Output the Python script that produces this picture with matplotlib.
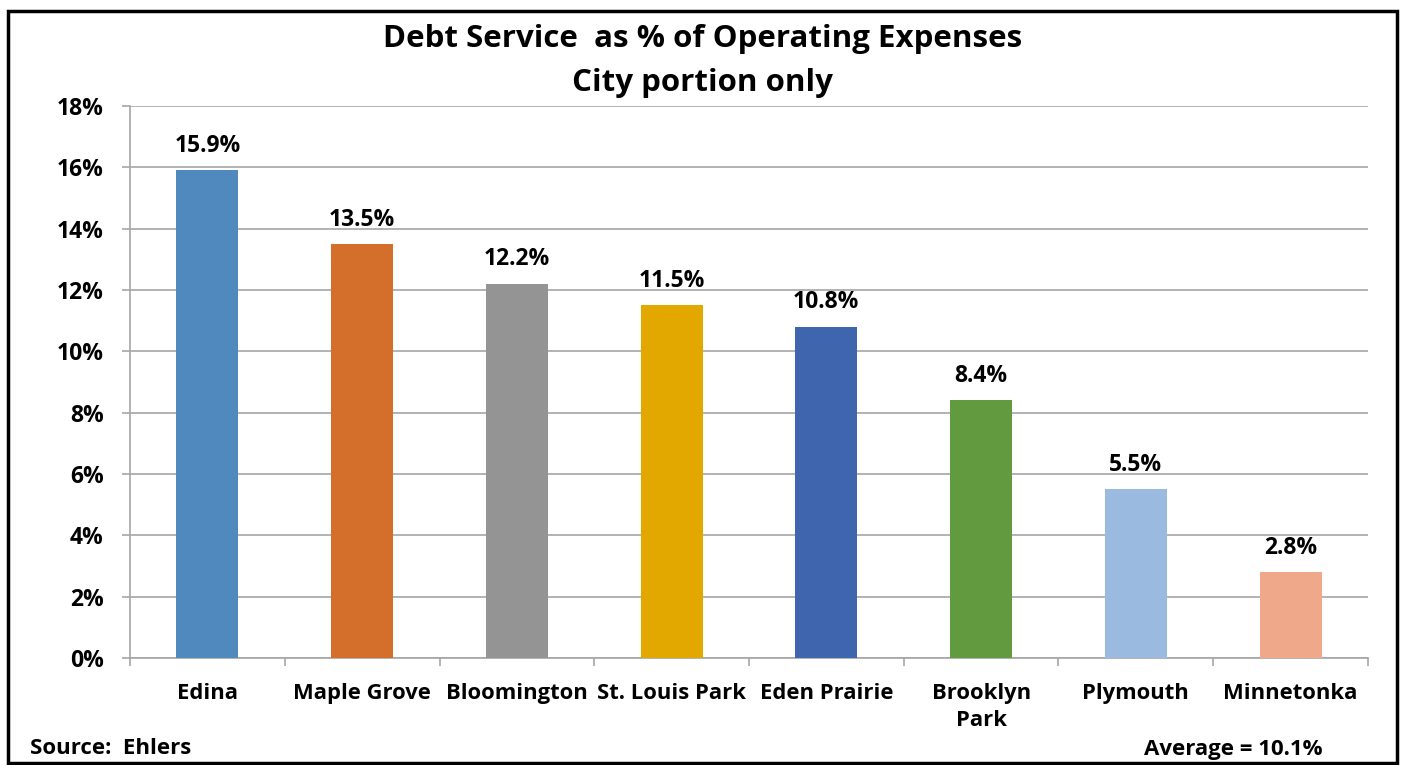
import matplotlib
matplotlib.use("Agg")
import matplotlib.pyplot as plt
from matplotlib.patches import Rectangle
from matplotlib.ticker import FuncFormatter, MultipleLocator

cities = ["Edina", "Maple Grove", "Bloomington", "St. Louis Park",
          "Eden Prairie", "Brooklyn\nPark", "Plymouth", "Minnetonka"]
debt_pct = [15.9, 13.5, 12.2, 11.5, 10.8, 8.4, 5.5, 2.8]
bar_colors = ["#5089BE", "#D46F2B", "#949494", "#E3A800",
              "#3E65AD", "#629B3F", "#9ABAE0", "#F0A88A"]
average_pct = 10.1

plt.rcParams["font.family"] = ["Open Sans", "DejaVu Sans"]
plt.rcParams["font.weight"] = "bold"

LABEL_SIZE = 16.5
CAT_SIZE = 15.8

fig = plt.figure(figsize=(14.03, 7.65), dpi=100)
ax = fig.add_axes([0.0927, 0.1399, 0.8823, 0.7215])

x = list(range(len(cities)))
ax.bar(x, debt_pct, width=0.4, color=bar_colors, zorder=3)

for xi, v in zip(x, debt_pct):
    ax.annotate(f"{v:.1f}%", (xi, v), xytext=(0, 9), textcoords="offset points",
                ha="center", va="bottom", fontsize=LABEL_SIZE, fontweight="bold")

ax.set_xlim(-0.5, len(cities) - 0.5)
ax.set_ylim(0, 18)
ax.yaxis.set_major_locator(MultipleLocator(2))
ax.yaxis.set_major_formatter(FuncFormatter(lambda v, _: f"{v:.0f}%"))
ax.grid(axis="y", color="#A6A6A6", linewidth=1.2, zorder=0)

ax.set_xticks(x)
ax.set_xticklabels(cities, fontsize=CAT_SIZE, fontweight="bold", linespacing=1.4)
ax.tick_params(axis="x", length=0, pad=18)
ax.set_xticks([i + 0.5 for i in range(-1, len(cities))], minor=True)
ax.tick_params(axis="x", which="minor", length=6, color="#A6A6A6", width=1.2)
ax.tick_params(axis="y", length=6, color="#A6A6A6", width=1.2,
               labelsize=LABEL_SIZE, pad=13)
for lbl in ax.get_yticklabels():
    lbl.set_fontweight("bold")

for side in ["top", "right"]:
    ax.spines[side].set_visible(False)
for side in ["left", "bottom"]:
    ax.spines[side].set_color("#A6A6A6")
    ax.spines[side].set_linewidth(1.2)

fig.text(0.501, 0.949, "Debt Service  as % of Operating Expenses",
         ha="center", va="center", fontsize=22.5, fontweight="bold")
fig.text(0.501, 0.891, "City portion only",
         ha="center", va="center", fontsize=22.5, fontweight="bold")

fig.text(30 / 1403, 1 - 749 / 765, "Source:  Ehlers", ha="left", va="center",
         fontsize=16, fontweight="bold")
fig.text(1323 / 1403, 1 - 749 / 765, f"Average = {average_pct:.1f}%", ha="right",
         va="center", fontsize=16, fontweight="bold")

fig.patches.append(Rectangle((8 / 1403, 2 / 765), 1389 / 1403, 752 / 765,
                             transform=fig.transFigure, fill=False,
                             edgecolor="black", linewidth=2.5))

fig.savefig("out.png", dpi=100)
